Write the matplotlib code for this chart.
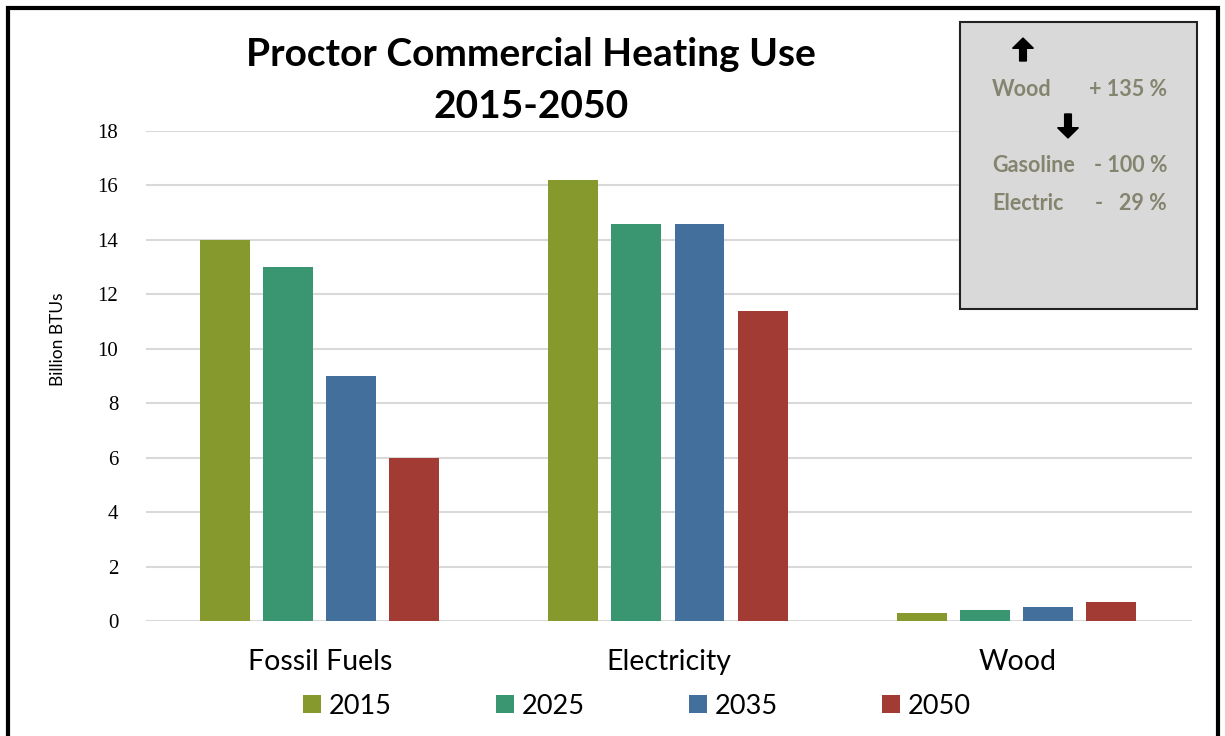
import numpy as np
import matplotlib.pyplot as plt
from matplotlib.patches import Rectangle, FancyArrow

categories = ["Fossil Fuels", "Electricity", "Wood"]
years = ["2015", "2025", "2035", "2050"]
v2015 = [14.0, 16.2, 0.31]
v2025 = [13.0, 14.6, 0.41]
v2035 = [9.0, 14.6, 0.53]
v2050 = [6.0, 11.4, 0.71]
colors = ["#86992C", "#3A9670", "#436F9D", "#A23B34"]

note_items = ["Wood", "Gasoline", "Electric"]
note_values = ["+ 135 %", "- 100 %", "-   29 %"]

fig = plt.figure(figsize=(12.25, 7.36), dpi=100)
W, H = 1225, 736

def fx(px):
    return px / W

def fy(py):
    return 1 - py / H

ax = fig.add_axes([fx(146), fy(621), fx(1192) - fx(146), fy(131) - fy(621)])

x = np.arange(len(categories))
width = 0.143
step = 0.181
series = [v2015, v2025, v2035, v2050]
for i, (vals, col, yr) in enumerate(zip(series, colors, years)):
    ax.bar(x + (i - 1.5) * step - 0.003, vals, width, color=col, label=yr, zorder=3)

ax.set_xlim(-0.5, 2.5)
ax.set_ylim(0, 18)
ax.set_yticks(range(0, 19, 2))
ax.set_yticklabels([str(t) for t in range(0, 19, 2)], family="Liberation Serif", fontsize=15)
ax.set_xticks(x)
ax.set_xticklabels(categories, family="Lato", fontsize=20.5)
ax.tick_params(length=0)
ax.tick_params(axis="y", pad=20)
ax.tick_params(axis="x", pad=20)
ax.grid(axis="y", color="#d9d9d9", lw=1.5, zorder=0)
for s in ax.spines.values():
    s.set_visible(False)
ax.set_ylabel("Billion BTUs", family="Lato", fontsize=12.5)
ax.yaxis.set_label_coords((66 - 146) / (1192 - 146), (621 - 339) / 490)

fig.text(fx(531), fy(55), "Proctor Commercial Heating Use", ha="center", va="center",
         family="Lato", fontweight="bold", fontsize=28)
fig.text(fx(531), fy(106), "2015-2050", ha="center", va="center",
         family="Lato", fontweight="bold", fontsize=28)

leg = fig.legend(loc="center", bbox_to_anchor=(fx(637), fy(706)), ncol=4, frameon=False,
                 prop={"family": "Lato", "size": 19.5}, handlelength=0.65, handleheight=0.65,
                 columnspacing=3.85, handletextpad=0.3)

# outer frame
fig.patches.append(Rectangle((fx(8), -0.05), fx(1218) - fx(8), fy(8) + 0.05,
                             transform=fig.transFigure, fill=False, ec="black", lw=3))

# note box
fig.patches.append(Rectangle((fx(960), fy(309)), fx(1197) - fx(960), fy(22) - fy(309),
                             transform=fig.transFigure, fc="#d9d9d9", ec="#222222", lw=1.5))
note_col = "#84846f"
ys = [89, 165, 203]
for item, val, yy in zip(note_items, note_values, ys):
    fig.text(fx(992), fy(yy), item, ha="left", va="center", family="Lato",
             fontweight="bold", fontsize=15.5, color=note_col)
    fig.text(fx(1167), fy(yy), val, ha="right", va="center", family="Lato",
             fontweight="bold", fontsize=15.5, color=note_col)

fig.patches.append(FancyArrow(fx(1023), fy(61), 0, fy(38) - fy(61), width=0.0055,
                              head_width=0.017, head_length=0.014, length_includes_head=True,
                              transform=fig.transFigure, color="black"))
fig.patches.append(FancyArrow(fx(1068), fy(114), 0, fy(138) - fy(114), width=0.0055,
                              head_width=0.017, head_length=0.014, length_includes_head=True,
                              transform=fig.transFigure, color="black"))

fig.savefig("out.png", dpi=100)
